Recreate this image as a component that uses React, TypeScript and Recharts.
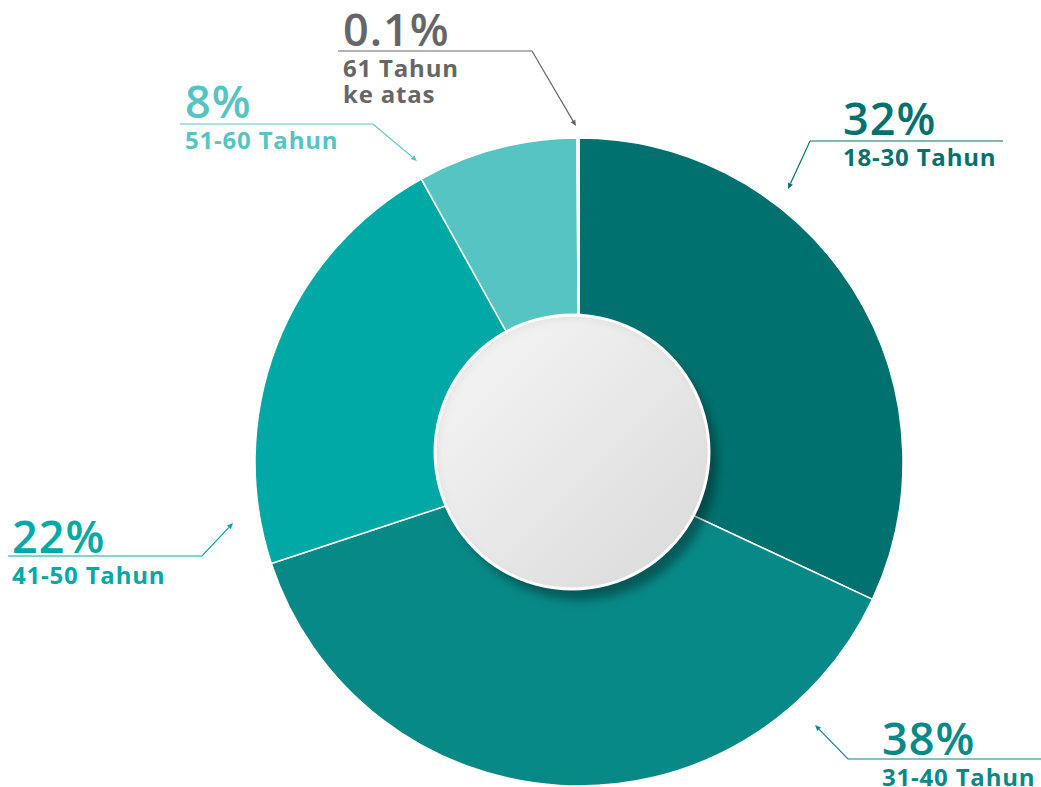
import React from 'react';
import { PieChart, Pie, Cell } from 'recharts';

// ---- data ----
const categories = ['18-30 Tahun', '31-40 Tahun', '41-50 Tahun', '51-60 Tahun', '61 Tahun ke atas'];
const values = [32, 38, 22, 8, 0.1];
const percentLabels = ['32%', '38%', '22%', '8%', '0.1%'];
const subLabelLines = [['18-30 Tahun'], ['31-40 Tahun'], ['41-50 Tahun'], ['51-60 Tahun'], ['61 Tahun', 'ke atas']];

// ---- styles ----
const sliceColors = ['#00716E', '#078987', '#00A9A6', '#57C4C4', '#D6ECEC'];
const labelColors = ['#00716E', '#078987', '#00A9A6', '#57C4C4', '#666666'];

// callout geometry, relative to pie centre
const callouts = [
  { tip: [209, -273], elbow: [231, -321], lineEnd: 424, textX: 264, base: -327 },
  { tip: [236, 263], elbow: [269, 297], lineEnd: 462, textX: 303, base: 293 },
  { tip: [-346, 61], elbow: [-377, 94], lineEnd: -571, textX: -567, base: 91 },
  { tip: [-162, -301], elbow: [-206, -338], lineEnd: -399, textX: -394, base: -344 },
  { tip: [-3, -336], elbow: [-47, -411], lineEnd: -241, textX: -236, base: -416 },
];

const data = categories.map((name, i) => ({ name, value: values[i] }));
const innerData = [{ name: 'center', value: 1 }];

const FONT = '"Open Sans", "DejaVu Sans", sans-serif';

const renderLabel = (props: any) => {
  const { cx, cy, index } = props;
  const L = callouts[index];
  const color = labelColors[index];
  const tx = cx + L.tip[0];
  const ty = cy + L.tip[1];
  const ex = cx + L.elbow[0];
  const ey = cy + L.elbow[1];
  const lx = cx + L.lineEnd;
  const dx = tx - ex;
  const dy = ty - ey;
  const len = Math.sqrt(dx * dx + dy * dy);
  const ux = dx / len;
  const uy = dy / len;
  const ah = 6;
  const aw = 2.6;
  const bx = tx - ux * ah;
  const by = ty - uy * ah;
  const arrow = `${tx},${ty} ${bx - uy * aw},${by + ux * aw} ${bx + uy * aw},${by - ux * aw}`;
  const textX = cx + L.textX;
  const base = cy + L.base;
  return (
    <g key={`callout-${index}`}>
      <polyline points={`${lx},${ey} ${ex},${ey} ${bx},${by}`} fill="none" stroke={color} strokeWidth={1.2} />
      <polygon points={arrow} fill={color} />
      <text x={textX} y={base} fill={color} fontFamily={FONT} fontWeight={600} fontSize={45} letterSpacing={1}>
        {percentLabels[index]}
      </text>
      {subLabelLines[index].map((line, j) => (
        <text key={j} x={textX} y={base + 31 + j * 26} fill={color} fontFamily={FONT} fontWeight={700} fontSize={24} letterSpacing={0.8}>
          {line}
        </text>
      ))}
    </g>
  );
};

export default function App() {
  return (
    <div style={{ position: 'absolute', left: 0, top: 0, width: 1041, height: 787, background: '#fff' }}>
      <svg width={0} height={0} style={{ position: 'absolute' }}>
        <defs>
          <linearGradient id="innerGrad" x1="0" y1="0" x2="1" y2="1">
            <stop offset="0%" stopColor="#F8F7F7" />
            <stop offset="100%" stopColor="#DAD9D9" />
          </linearGradient>
          <filter id="discShadow" x="-20%" y="-20%" width="150%" height="150%">
            <feGaussianBlur in="SourceAlpha" stdDeviation="5" result="blur" />
            <feOffset in="blur" dx="8" dy="11" result="off" />
            <feFlood floodColor="#000" floodOpacity="0.35" result="dcol" />
            <feComposite in="dcol" in2="off" operator="in" result="drop" />
            <feOffset in="SourceAlpha" dx="3" dy="4" result="io" />
            <feGaussianBlur in="io" stdDeviation="4" result="iob" />
            <feComposite in="SourceAlpha" in2="iob" operator="out" result="inv" />
            <feFlood floodColor="#000" floodOpacity="0.12" result="icol" />
            <feComposite in="icol" in2="inv" operator="in" result="inner" />
            <feMerge>
              <feMergeNode in="drop" />
              <feMergeNode in="SourceGraphic" />
              <feMergeNode in="inner" />
            </feMerge>
          </filter>
        </defs>
      </svg>
      <PieChart width={1041} height={787} margin={{ top: 0, right: 0, bottom: 0, left: 0 }}>
        <Pie
          data={data}
          dataKey="value"
          nameKey="name"
          cx={579}
          cy={462}
          outerRadius={324}
          innerRadius={0}
          startAngle={90}
          endAngle={-270}
          stroke="#FFFFFF"
          strokeWidth={1.5}
          label={renderLabel}
          labelLine={false}
          isAnimationActive={false}
        >
          {data.map((d, i) => (
            <Cell key={d.name} fill={sliceColors[i]} />
          ))}
        </Pie>
        <Pie
          data={innerData}
          dataKey="value"
          cx={572}
          cy={452}
          outerRadius={137}
          innerRadius={0}
          startAngle={90}
          endAngle={-270}
          stroke="none"
          isAnimationActive={false}
          label={false}
          labelLine={false}
        >
          <Cell fill="url(#innerGrad)" stroke="none" filter="url(#discShadow)" />
        </Pie>
        <Pie
          data={innerData}
          dataKey="value"
          cx={572}
          cy={452}
          outerRadius={138.5}
          innerRadius={135.5}
          startAngle={90}
          endAngle={-270}
          stroke="none"
          isAnimationActive={false}
          label={false}
          labelLine={false}
        >
          <Cell fill="#FFFFFF" stroke="none" />
        </Pie>
      </PieChart>
    </div>
  );
}
